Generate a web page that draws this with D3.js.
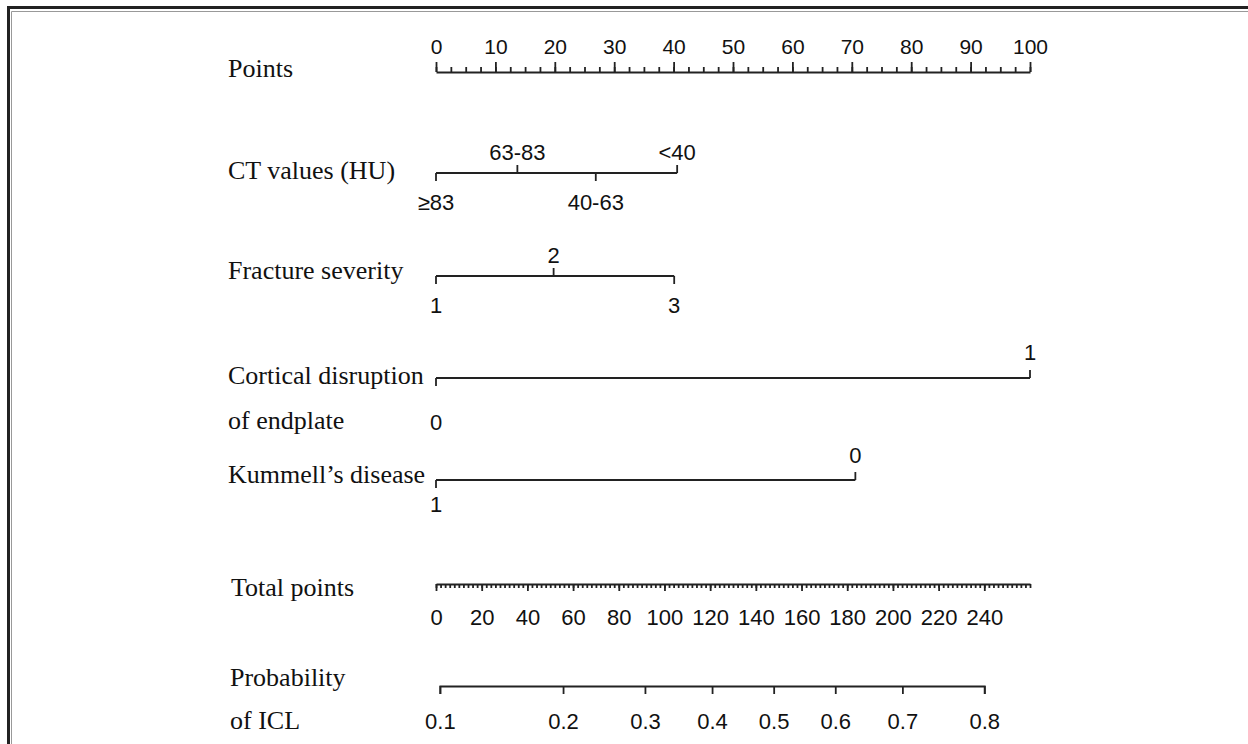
<!DOCTYPE html>
<html>
<head>
<meta charset="utf-8">
<script src="https://cdn.jsdelivr.net/npm/d3@7"></script>
<style>
  html, body { margin: 0; padding: 0; background: #fff; }
  svg { display: block; }
  .axis path, .axis line { stroke: #222; stroke-width: 1.8; }
  .axis text { font-family: "Liberation Sans", Arial, sans-serif; font-size: 22px; fill: #111; }
  .axis.points text { font-size: 21px; }
  .row-label { font-family: "Liberation Serif", "Times New Roman", serif; font-size: 26px; fill: #111; }
  .lvl { font-family: "Liberation Sans", Arial, sans-serif; font-size: 22px; fill: #111; }
</style>
</head>
<body>
<div id="chart"></div>
<script>
// nomogram values
const pointTicks = [0, 10, 20, 30, 40, 50, 60, 70, 80, 90, 100];
const ctLevels = ["≥83", "63-83", "40-63", "<40"];
const ctPoints = [0, 13.7, 26.9, 40.6];
const fractureLevels = ["1", "2", "3"];
const fracturePoints = [0, 19.8, 40.1];
const corticalLevels = ["0", "1"];
const corticalPoints = [0, 100];
const kummellLevels = ["1", "0"];
const kummellPoints = [0, 70.6];
const totalTicks = [0, 20, 40, 60, 80, 100, 120, 140, 160, 180, 200, 220, 240];
const totalMax = 260;
const probTicks = [0.1, 0.2, 0.3, 0.4, 0.5, 0.6, 0.7, 0.8];
// linear predictor = intercept + slope * total points
const lpIntercept = -2.2226;
const lpSlope = 0.015038;

const width = 1248, height = 744;
const x0 = 436, x1 = 1030;
const labelX = 228;

const svg = d3.select("#chart").append("svg")
  .attr("width", width)
  .attr("height", height);

// frame
svg.append("path")
  .attr("d", `M8.5,${height} V7.5 H${width}`)
  .attr("fill", "none").attr("stroke", "#222").attr("stroke-width", 3);
svg.append("path")
  .attr("d", `M11.5,${height} V11.5 H${width}`)
  .attr("fill", "none").attr("stroke", "#999").attr("stroke-width", 1);

const pts = d3.scaleLinear().domain([0, 100]).range([x0, x1]);
const tot = d3.scaleLinear().domain([0, totalMax]).range([x0, x1]);

// Points axis
const pointsY = 72;
svg.append("g")
  .attr("class", "axis points")
  .attr("transform", `translate(0,${pointsY})`)
  .call(d3.axisTop(pts).tickValues(d3.range(0, 100.1, 2.5)).tickSize(5).tickSizeOuter(0).tickFormat(""));
svg.append("g")
  .attr("class", "axis points")
  .attr("transform", `translate(0,${pointsY})`)
  .call(d3.axisTop(pts).tickValues(pointTicks).tickSize(10).tickSizeOuter(0).tickPadding(8).tickFormat(d3.format("d")))
  .call(g => g.select(".domain").remove());

svg.append("text").attr("class", "row-label")
  .attr("x", labelX).attr("y", 77).text("Points");

// predictor rows
const rows = [
  { name: ["CT values (HU)"], textY: [179], y: 173, levels: ctLevels, points: ctPoints, above: 13, below: 37 },
  { name: ["Fracture severity"], textY: [279], y: 276, levels: fractureLevels, points: fracturePoints, above: 13, below: 37 },
  { name: ["Cortical disruption", "of endplate"], textY: [384, 429], y: 378, levels: corticalLevels, points: corticalPoints, above: 18, below: 52 },
  { name: ["Kummell’s disease"], textY: [483], y: 480, levels: kummellLevels, points: kummellPoints, above: 17, below: 32 }
];

rows.forEach(r => {
  const g = svg.append("g").attr("class", "axis");
  g.append("line")
    .attr("x1", pts(d3.min(r.points))).attr("x2", pts(d3.max(r.points)))
    .attr("y1", r.y).attr("y2", r.y);

  r.levels.forEach((lv, i) => {
    const up = i % 2 === 1;
    const x = pts(r.points[i]);
    g.append("line")
      .attr("x1", x).attr("x2", x)
      .attr("y1", r.y).attr("y2", up ? r.y - 8 : r.y + 8);
    svg.append("text").attr("class", "lvl")
      .attr("x", x)
      .attr("y", up ? r.y - r.above : r.y + r.below)
      .attr("text-anchor", "middle")
      .text(lv);
  });

  r.name.forEach((t, k) => {
    svg.append("text").attr("class", "row-label")
      .attr("x", labelX).attr("y", r.textY[k]).text(t);
  });
});

// Total points axis
const totalY = 584;
svg.append("g")
  .attr("class", "axis")
  .attr("transform", `translate(0,${totalY})`)
  .call(d3.axisBottom(tot).tickValues(d3.range(0, totalMax + 0.1, 2)).tickSize(4).tickSizeOuter(0).tickFormat(""));
svg.append("g")
  .attr("class", "axis")
  .attr("transform", `translate(0,${totalY})`)
  .call(d3.axisBottom(tot).tickValues(totalTicks).tickSize(7).tickSizeOuter(0).tickPadding(18).tickFormat(d3.format("d")))
  .call(g => g.select(".domain").remove());

svg.append("text").attr("class", "row-label")
  .attr("x", labelX + 3).attr("y", 596).text("Total points");

// Probability axis (logit scale, placed against total points)
const logit = p => Math.log(p / (1 - p));
const lpToX = lp => tot((lp - lpIntercept) / lpSlope);
const lpLo = logit(d3.min(probTicks)), lpHi = logit(d3.max(probTicks));
const lpScale = d3.scaleLinear().domain([lpLo, lpHi]).range([lpToX(lpLo), lpToX(lpHi)]);

const probY = 686;
svg.append("g")
  .attr("class", "axis")
  .attr("transform", `translate(0,${probY})`)
  .call(d3.axisBottom(lpScale)
    .tickValues(probTicks.map(logit))
    .tickSize(8).tickSizeOuter(8).tickPadding(19)
    .tickFormat((d, i) => probTicks[i]));

svg.append("text").attr("class", "row-label")
  .attr("x", labelX + 2).attr("y", 686).text("Probability");
svg.append("text").attr("class", "row-label")
  .attr("x", labelX + 2).attr("y", 729).text("of ICL");
</script>
</body>
</html>
